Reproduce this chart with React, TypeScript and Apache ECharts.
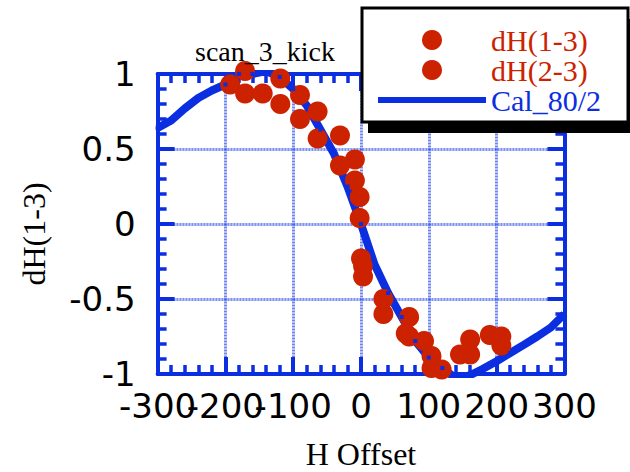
import React, { useEffect, useRef } from "react";
import * as echarts from "echarts";

// Measured kick response, two BPM differences (H offset vs normalised dH)
const scan13X = [-193, -171, -119, -90, -64, -31, -9, -2, 0, 33, 71, 93, 104, 146, 161, 190, 207];
const scan13Y = [0.93, 1.02, 0.97, 0.86, 0.75, 0.59, 0.43, 0.18, -0.23, -0.5, -0.62, -0.78, -0.88, -0.87, -0.77, -0.74, -0.75];
const scan23X = [-171, -145, -119, -90, -64, -31, -9, -2, 3, 3, 33, 66, 71, 104, 119, 161, 207];
const scan23Y = [0.87, 0.87, 0.8, 0.7, 0.57, 0.39, 0.29, 0.04, -0.28, -0.35, -0.6, -0.73, -0.75, -0.96, -0.97, -0.87, -0.81];

// Calculated curve (Cal_80/2)
const calX = [-300, -280, -260, -240, -220, -200, -180, -160, -140, -120, -100, -80, -60, -40, -20, 0, 20, 40, 60, 80, 100, 120, 140, 160, 180, 200, 220, 240, 260, 280, 300];
const calY = [0.64, 0.69, 0.77, 0.84, 0.89, 0.93, 1.0, 1.0, 1.02, 0.98, 0.9, 0.79, 0.63, 0.47, 0.25, 0.0, -0.27, -0.46, -0.62, -0.78, -0.89, -0.96, -1.03, -1.01, -0.965, -0.915, -0.86, -0.806, -0.75, -0.69, -0.6];

// x tick labels: outer set on the frame axis, inner set on a second, label-only axis,
// so the wide labels may run into each other without being dropped
const xOuterLabels = [-300, -100, 100, 300];
const xInnerTicks = { min: -200, max: 200, interval: 200 };
const xFrame = { min: -300, max: 300, interval: 100 };
const yFrame = { min: -1, max: 1, interval: 0.5 };

const BLUE = "#0a2ee0";
const RED = "#cc2200";
const GRID_LINE = "rgba(25,60,228,0.62)";

const PLOT = { left: 157.6, right: 65.6, top: 74, bottom: 98 };
const X_STEP = 67.8; // pixels per 100 units on the x axis

const zip = (xs: number[], ys: number[]) => xs.map((x, i) => [x, ys[i]]);

const tickLabel = (margin: number) => ({
  show: true,
  color: "#000",
  fontFamily: "DejaVu Sans",
  fontSize: 34,
  margin,
  hideOverlap: false,
});

const frameAxis = () => ({
  axisLine: { show: true, onZero: false, lineStyle: { color: BLUE, width: 4 } },
  axisTick: { show: true, inside: true, length: 17, lineStyle: { color: BLUE, width: 4 } },
  minorTick: { show: true, splitNumber: 5, length: 9, lineStyle: { color: BLUE, width: 3.5 } },
});

const hiddenAxis = {
  axisLine: { show: false },
  axisTick: { show: false },
  minorTick: { show: false },
  splitLine: { show: false },
};

const gridLines = { show: true, lineStyle: { color: GRID_LINE, width: 3, type: [1, 0.5] } };

export default function App() {
  const ref = useRef<HTMLDivElement>(null);

  useEffect(() => {
    if (!ref.current) return;
    const chart = echarts.init(ref.current, undefined, { renderer: "svg" });

    const option = {
      animation: false,
      backgroundColor: "#fff",
      title: {
        text: "scan_3_kick",
        left: 190,
        top: 32,
        textStyle: { fontFamily: "Liberation Serif", fontSize: 28, fontWeight: "normal", color: "#000" },
      },
      grid: [
        { ...PLOT, outerBoundsMode: "none", containLabel: false },
        {
          left: PLOT.left + X_STEP,
          right: PLOT.right + X_STEP,
          top: PLOT.top,
          bottom: PLOT.bottom,
          outerBoundsMode: "none",
          containLabel: false,
        },
      ],
      graphic: [
        { type: "rect", z: 3, shape: { x: 368, y: 19, width: 270, height: 114 }, style: { fill: "#000" } },
        {
          type: "rect",
          z: 3,
          shape: { x: 362, y: 8, width: 266, height: 114 },
          style: { fill: "#fff", stroke: "#000", lineWidth: 3 },
        },
      ],
      legend: {
        orient: "vertical",
        left: 360,
        top: 8,
        z: 5,
        padding: [17, 25, 10, 18],
        itemWidth: 108,
        itemHeight: 20,
        itemGap: 0,
        symbolKeepAspect: true,
        backgroundColor: "transparent",
        textStyle: { fontFamily: "Liberation Serif", fontSize: 30, lineHeight: 29 },
        data: [
          { name: "dH(1-3)", icon: "circle", textStyle: { color: RED } },
          { name: "dH(2-3)", icon: "circle", textStyle: { color: RED } },
          {
            name: "Cal_80/2",
            icon: "path://M0,0L104,0L104,6L0,6Z",
            itemStyle: { color: BLUE },
            textStyle: { color: BLUE },
          },
        ],
      },
      xAxis: [
        {
          // plot frame, bottom: grid lines, ticks, outer labels, axis name
          type: "value",
          gridIndex: 0,
          position: "bottom",
          ...xFrame,
          ...frameAxis(),
          axisLabel: { ...tickLabel(15), customValues: xOuterLabels },
          splitLine: gridLines,
          name: "H Offset",
          nameLocation: "middle",
          nameGap: 64,
          nameTextStyle: { fontFamily: "Liberation Serif", fontSize: 32, color: "#000", lineHeight: 32 },
        },
        {
          // plot frame, top
          type: "value",
          gridIndex: 0,
          position: "top",
          ...xFrame,
          ...frameAxis(),
          axisLabel: { show: false },
          splitLine: { show: false },
        },
        {
          // inner tick labels
          type: "value",
          gridIndex: 1,
          position: "bottom",
          ...xInnerTicks,
          ...hiddenAxis,
          axisLabel: tickLabel(15),
        },
      ],
      yAxis: [
        {
          type: "value",
          gridIndex: 0,
          position: "left",
          ...yFrame,
          ...frameAxis(),
          axisLabel: tickLabel(22),
          splitLine: gridLines,
          name: "dH(1-3)",
          nameLocation: "middle",
          nameGap: 108,
          nameTextStyle: { fontFamily: "Liberation Serif", fontSize: 32, color: "#000", padding: [0, 20, 0, 0] },
        },
        {
          type: "value",
          gridIndex: 0,
          position: "right",
          ...yFrame,
          ...frameAxis(),
          axisLabel: { show: false },
          splitLine: { show: false },
        },
        {
          type: "value",
          gridIndex: 1,
          ...yFrame,
          ...hiddenAxis,
          axisLabel: { show: false },
        },
      ],
      series: [
        {
          name: "Cal_80/2",
          type: "line",
          xAxisIndex: 0,
          yAxisIndex: 0,
          data: zip(calX, calY),
          showSymbol: false,
          symbol: "none",
          clip: true,
          z: 2,
          lineStyle: { color: BLUE, width: 8 },
          itemStyle: { color: BLUE },
        },
        {
          name: "dH(1-3)",
          type: "scatter",
          xAxisIndex: 0,
          yAxisIndex: 0,
          data: zip(scan13X, scan13Y),
          symbol: "circle",
          symbolSize: 20,
          clip: false,
          z: 3,
          itemStyle: { color: RED, opacity: 1 },
        },
        {
          name: "dH(2-3)",
          type: "scatter",
          xAxisIndex: 0,
          yAxisIndex: 0,
          data: zip(scan23X, scan23Y),
          symbol: "circle",
          symbolSize: 20,
          clip: false,
          z: 3,
          itemStyle: { color: RED, opacity: 1 },
        },
        {
          // point markers of the calculated curve
          name: "Cal_80/2 points",
          type: "scatter",
          xAxisIndex: 0,
          yAxisIndex: 0,
          data: zip(calX, calY),
          symbol: "rect",
          symbolSize: 4,
          clip: true,
          z: 4,
          itemStyle: { color: BLUE, opacity: 1 },
        },
      ],
    };

    chart.setOption(option as any);
    return () => chart.dispose();
  }, []);

  return (
    <div
      ref={ref}
      style={{ position: "absolute", left: 0, top: 0, width: 630, height: 472 }}
    />
  );
}
